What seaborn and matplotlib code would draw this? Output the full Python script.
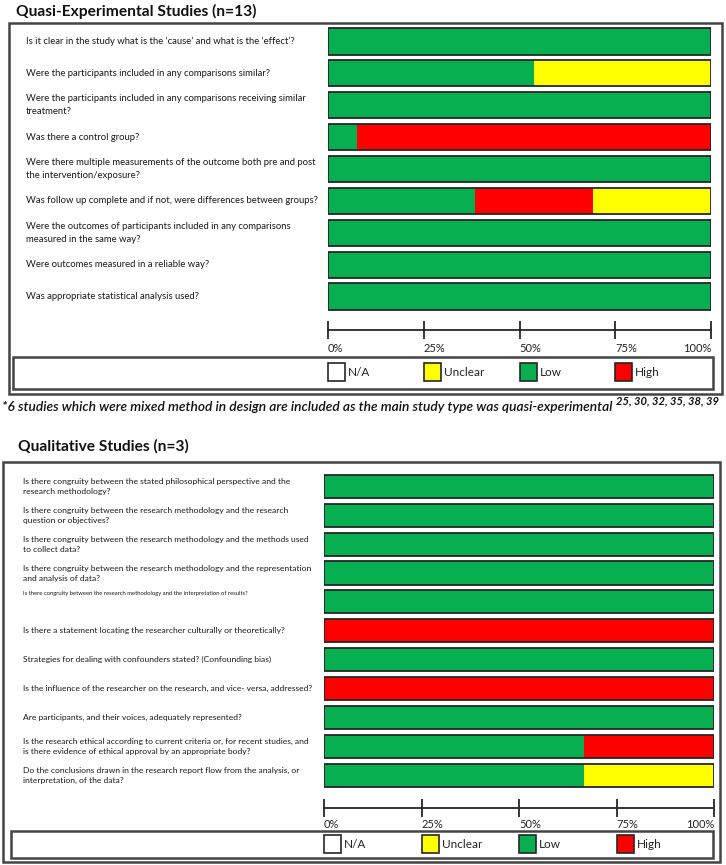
import pandas as pd
import matplotlib
matplotlib.use('Agg')
import matplotlib.pyplot as plt
import seaborn as sns
from matplotlib.patches import Rectangle
from matplotlib.transforms import blended_transform_factory

# 데이터: 문항과 판정 수 (Low / High / Unclear)
quasi_questions = [
    "Is it clear in the study what is the \u2018cause\u2019 and what is the \u2018effect\u2019?",
    "Were the participants included in any comparisons similar?",
    "Were the participants included in any comparisons receiving similar\ntreatment?",
    "Was there a control group?",
    "Were there multiple measurements of the outcome both pre and post\nthe intervention/exposure?",
    "Was follow up complete and if not, were differences between groups?",
    "Were the outcomes of participants included in any comparisons\nmeasured in the same way?",
    "Were outcomes measured in a reliable way?",
    "Was appropriate statistical analysis used?",
]
quasi_n = 13
quasi_low = [13, 7, 13, 1, 13, 5, 13, 13, 13]
quasi_high = [0, 0, 0, 12, 0, 4, 0, 0, 0]
quasi_unclear = [0, 6, 0, 0, 0, 4, 0, 0, 0]

qual_questions = [
    "Is there congruity between the stated philosophical perspective and the\nresearch methodology?",
    "Is there congruity between the research methodology and the research\nquestion or objectives?",
    "Is there congruity between the research methodology and the methods used\nto collect data?",
    "Is there congruity between the research methodology and the representation\nand analysis of data?",
    "Is there congruity between the research methodology and the interpretation of results?",
    "Is there a statement locating the researcher culturally or theoretically?",
    "Strategies for dealing with confounders stated? (Confounding bias)",
    "Is the influence of the researcher on the research, and vice- versa, addressed?",
    "Are participants, and their voices, adequately represented?",
    "Is the research ethical according to current criteria or, for recent studies, and\nis there evidence of ethical approval by an appropriate body?",
    "Do the conclusions drawn in the research report flow from the analysis, or\ninterpretation, of the data?",
]
qual_n = 3
qual_low = [3, 3, 3, 3, 3, 0, 3, 0, 3, 2, 2]
qual_high = [0, 0, 0, 0, 0, 3, 0, 3, 0, 1, 0]
qual_unclear = [0, 0, 0, 0, 0, 0, 0, 0, 0, 0, 1]

legend_labels = ['N/A', 'Unclear', 'Low', 'High']
legend_colors = ['white', '#FFFF00', '#07AF50', '#FF0000']
pct_ticks = [0, 25, 50, 75, 100]
pct_labels = ['0%', '25%', '50%', '75%', '100%']

GREEN, YELLOW, RED = '#07AF50', '#FFFF00', '#FF0000'
EDGE = '#262626'
W, H = 726, 865

sns.set_theme(style='white')
plt.rcParams['font.family'] = ['Lato', 'DejaVu Sans']

fig = plt.figure(figsize=(W / 100, H / 100), dpi=100)


def fx(px):
    return px / W


def fy(py):
    return 1 - py / H


def box(x0, y0, x1, y1, lw=1.8, color='#444444'):
    fig.add_artist(Rectangle((fx(x0), fy(y1)), fx(x1) - fx(x0), (y1 - y0) / H,
                             transform=fig.transFigure, fill=False,
                             edgecolor=color, linewidth=lw))


def panel(rect, questions, low, high, unclear, n, label_px, label_size,
          bar_width, outward, legend_y, pad, small=None):
    ax = fig.add_axes(rect)
    df = pd.DataFrame({'question': questions,
                       'low': [v / n * 100 for v in low],
                       'high': [v / n * 100 for v in high],
                       'unclear': [v / n * 100 for v in unclear]})
    df['low_high'] = df['low'] + df['high']
    df['total'] = df['low_high'] + df['unclear']

    # 누적 막대: 가장 긴 것부터 겹쳐 그리기
    sns.barplot(data=df, x='total', y='question', color=YELLOW, saturation=1,
                width=bar_width, linewidth=0, errorbar=None, ax=ax)
    sns.barplot(data=df, x='low_high', y='question', color=RED, saturation=1,
                width=bar_width, linewidth=0, errorbar=None, ax=ax)
    sns.barplot(data=df, x='low', y='question', color=GREEN, saturation=1,
                width=bar_width, linewidth=0, errorbar=None, ax=ax)
    sns.barplot(data=df, x='total', y='question', color=EDGE, fill=False,
                width=bar_width, linewidth=1.3, errorbar=None, ax=ax)

    ax.set_xlim(0, 100)
    ax.set_ylim(len(questions) - 0.5, -0.5)
    ax.set_yticks([])
    ax.set_xlabel('')
    ax.set_ylabel('')
    ax.set_facecolor('none')
    for s in ['left', 'top', 'right']:
        ax.spines[s].set_visible(False)
    ax.spines['bottom'].set_position(('outward', outward))
    ax.spines['bottom'].set_color(EDGE)
    ax.spines['bottom'].set_linewidth(1.3)
    ax.set_xticks(pct_ticks)
    ax.set_xticklabels(pct_labels)
    ax.tick_params(axis='x', bottom=True, direction='inout', length=13,
                   width=1.3, color=EDGE, pad=pad, labelsize=8, labelcolor='#222')
    labs = ax.get_xticklabels()
    for lab in labs[:-1]:
        lab.set_ha('left')
    labs[-1].set_ha('right')

    tr = blended_transform_factory(fig.transFigure, ax.transData)
    small = small or {}
    for i, q in enumerate(questions):
        size, dy = small.get(i, (label_size, 0))
        ax.text(fx(label_px), i + dy, q, transform=tr, ha='left', va='center',
                fontsize=size, color='#1a1a1a', linespacing=1.5)

    # 범례
    left, width = rect[0], rect[2]
    for t, lab, col in zip(pct_ticks, legend_labels, legend_colors):
        x0 = left + width * t / 100
        fig.add_artist(Rectangle((x0, fy(legend_y + 9)), fx(17), 18 / H,
                                 transform=fig.transFigure, facecolor=col,
                                 edgecolor=EDGE, linewidth=1.2))
        fig.text(x0 + fx(20), fy(legend_y), lab, ha='left', va='center',
                 fontsize=8.5, color='#222')
    return ax


# 상단: Quasi-Experimental
fig.text(fx(16), fy(11), 'Quasi-Experimental Studies (n=13)', ha='left',
         va='center', fontsize=11.2, fontweight='bold', color='#111')
box(9, 23, 722, 394)
box(13, 357, 713, 389)
panel([fx(328), fy(312.5), fx(383), 287 / H], quasi_questions, quasi_low,
      quasi_high, quasi_unclear, quasi_n, 26, 6.85, 0.82, 12.6, 372, 3)

foot = fig.text(fx(2), fy(407), '*6 studies which were mixed method in design are '
                'included as the main study type was quasi-experimental',
                ha='left', va='center', fontsize=9.9, fontstyle='italic',
                fontweight='semibold', color='#111')
fig.canvas.draw()
bb = foot.get_window_extent()
fig.text(bb.x1 / W + fx(3), fy(401), '25, 30, 32, 35, 38, 39', ha='left',
         va='center', fontsize=8, fontstyle='italic', fontweight='bold',
         color='#111')

# 하단: Qualitative
fig.text(fx(18), fy(446), 'Qualitative Studies (n=3)', ha='left',
         va='center', fontsize=11.2, fontweight='bold', color='#111')
box(3, 462, 720, 862)
box(11, 831, 713, 858)
panel([fx(324), fy(789.5), fx(390), 317.5 / H], qual_questions, qual_low,
      qual_high, qual_unclear, qual_n, 23, 6.1, 0.8, 13.3, 844, 1.5,
      small={4: (4.2, -0.3)})

fig.savefig('out.png', dpi=100)
